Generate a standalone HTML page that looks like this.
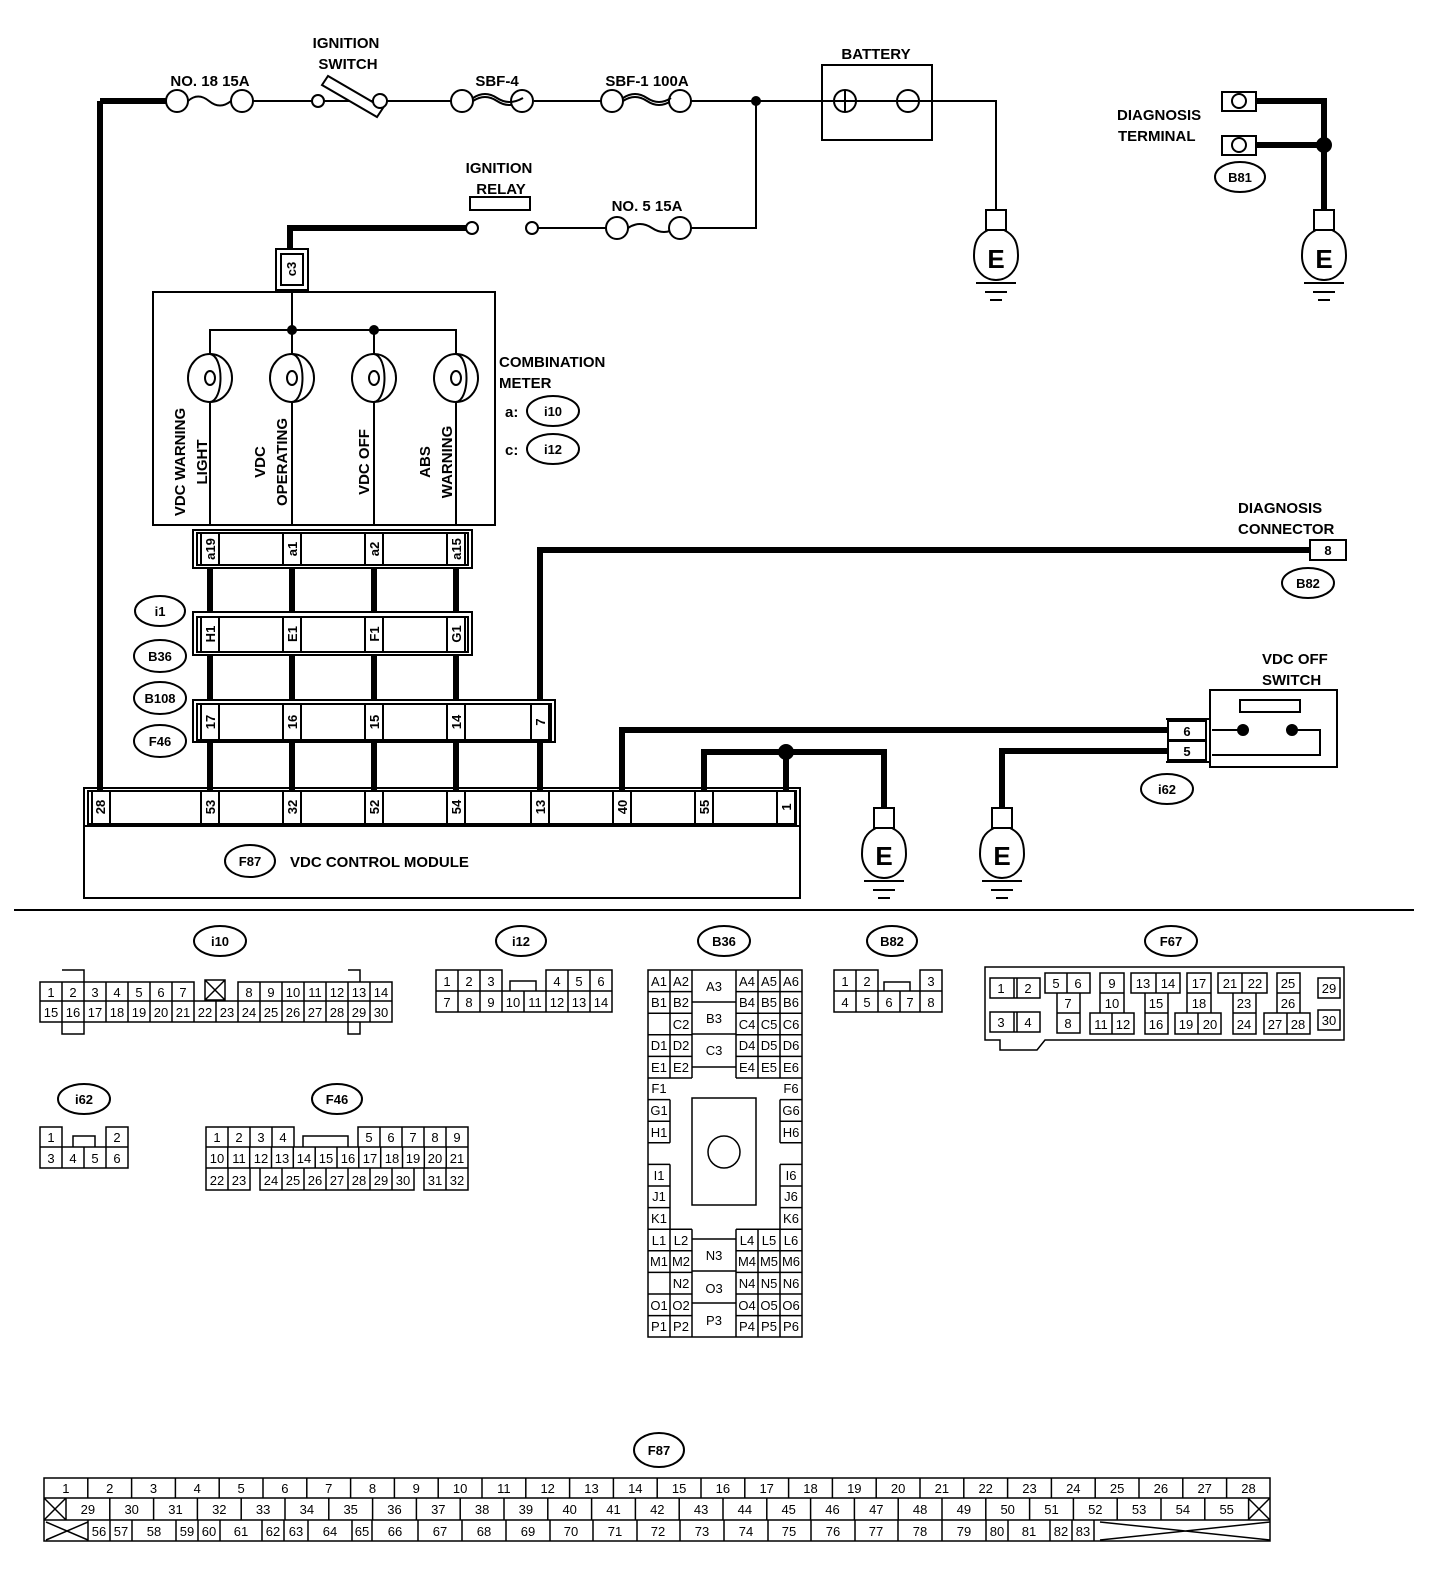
<!DOCTYPE html>
<html><head><meta charset="utf-8"><style>
html,body{margin:0;padding:0;background:#fff;}
svg{display:block;}
text{font-family:"Liberation Sans",sans-serif;fill:#000;}
.l{font-size:15px;font-weight:bold;}
.c{font-size:13px;text-anchor:middle;}
.p{font-size:13px;font-weight:bold;text-anchor:middle;}
</style></head><body>
<svg width="1456" height="1584" viewBox="0 0 1456 1584" xmlns="http://www.w3.org/2000/svg">
<g fill="none" stroke="#000" stroke-width="2">
<!-- top power line -->
<path d="M100 101H166" stroke-width="6"/>
<path d="M100 101V790" stroke-width="6"/>
<path d="M188 101q10 -9 21 0t22 0M253 101H312M324 101H373M387 101H451M473 101q12 -8 24 0t26 0M534 101H601M623 101q12 -8 24 0t24 0M691 101H834M856 101H897M919 101H996V210"/>
<circle cx="177" cy="101" r="11" fill="#fff"/><circle cx="242" cy="101" r="11" fill="#fff"/>
<circle cx="318" cy="101" r="6" fill="#fff"/>
<path d="M322 85l6 -9 55 32 -6 9z" fill="#fff"/>
<circle cx="380" cy="101" r="7" fill="#fff"/>
<circle cx="462" cy="101" r="11" fill="#fff"/><circle cx="522" cy="101" r="11" fill="#fff"/>
<circle cx="612" cy="101" r="11" fill="#fff"/><circle cx="680" cy="101" r="11" fill="#fff"/>
<path d="M473 98q12 -8 24 0t26 0M623 98q12 -8 24 0t24 0"/>
<circle cx="756" cy="101" r="4" fill="#000"/>
<path d="M756 101V228H692"/>
<!-- battery -->
<rect x="822" y="65" width="110" height="75"/>
<circle cx="845" cy="101" r="11"/><path d="M834 101h22M845 90v22"/>
<circle cx="908" cy="101" r="11"/><path d="M897 101h22"/>
<!-- ignition relay -->
<rect x="470" y="197" width="60" height="13"/>
<path d="M537 228H606M628 228q12 -8 24 0t24 0M691 228H692"/>
<circle cx="532" cy="228" r="6" fill="#fff"/>
<circle cx="617" cy="228" r="11" fill="#fff"/><circle cx="680" cy="228" r="11" fill="#fff"/>
<path d="M466 228H290V252" stroke-width="6"/>
<circle cx="472" cy="228" r="6" fill="#fff"/>
<rect x="276" y="249" width="32" height="41" fill="#fff"/><rect x="281" y="254" width="22" height="31"/>
<!-- combination meter -->
<rect x="153" y="292" width="342" height="233"/>
<path d="M292 290V330M210 354V330H456V354M374 330V354M292 330V354"/>
<circle cx="292" cy="330" r="4" fill="#000"/><circle cx="374" cy="330" r="4" fill="#000"/>
<g>
<ellipse cx="210" cy="378" rx="22" ry="24"/><ellipse cx="292" cy="378" rx="22" ry="24"/><ellipse cx="374" cy="378" rx="22" ry="24"/><ellipse cx="456" cy="378" rx="22" ry="24"/>
<path d="M210 354c14 2 14 46 0 48M292 354c14 2 14 46 0 48M374 354c14 2 14 46 0 48M456 354c14 2 14 46 0 48"/>
<ellipse cx="210" cy="378" rx="5" ry="7"/><ellipse cx="292" cy="378" rx="5" ry="7"/><ellipse cx="374" cy="378" rx="5" ry="7"/><ellipse cx="456" cy="378" rx="5" ry="7"/>
</g>
<path d="M210 402V525M292 402V525M374 402V525M456 402V525"/>
<!-- connectors -->
<rect x="193" y="530" width="279" height="38"/><rect x="197" y="533" width="271" height="32"/>
<path d="M201 533v32M219 533v32M283 533v32M301 533v32M365 533v32M383 533v32M447 533v32M465 533v32"/>
<path d="M210 568V612M292 568V612M374 568V612M456 568V612" stroke-width="6"/>
<rect x="193" y="612" width="279" height="43"/><rect x="197" y="617" width="271" height="35"/>
<path d="M201 617v35M219 617v35M283 617v35M301 617v35M365 617v35M383 617v35M447 617v35M465 617v35"/>
<path d="M210 655V700M292 655V700M374 655V700M456 655V700" stroke-width="6"/>
<rect x="193" y="700" width="362" height="42"/><rect x="197" y="704" width="354" height="36"/>
<path d="M201 704v36M219 704v36M283 704v36M301 704v36M365 704v36M383 704v36M447 704v36M465 704v36M531 704v36M549 704v36"/>
<path d="M210 742V790M292 742V790M374 742V790M456 742V790M540 742V790" stroke-width="6"/>
<path d="M540 700V550H1310" stroke-width="6"/>
<!-- F87 module -->
<rect x="84" y="788" width="716" height="38"/><rect x="88" y="791" width="708" height="33"/>
<path d="M92 791v33M110 791v33M201 791v33M219 791v33M283 791v33M301 791v33M365 791v33M383 791v33M447 791v33M465 791v33M531 791v33M549 791v33M613 791v33M631 791v33M695 791v33M713 791v33M777 791v33M795 791v33"/>
<rect x="84" y="826" width="716" height="72"/>
<path d="M622 790V730H1170M704 790V752H884V808M786 790V752M1170 751H1002V808" stroke-width="6"/>
<circle cx="786" cy="752" r="7" fill="#000"/>
<!-- diag connector -->
<rect x="1310" y="540" width="36" height="20" fill="#fff"/>
<!-- VDC off switch -->
<rect x="1210" y="690" width="127" height="77"/>
<path d="M1166 719H1210M1166 762H1210"/>
<rect x="1168" y="721" width="38" height="19" fill="#fff"/><rect x="1168" y="741" width="38" height="19" fill="#fff"/>
<rect x="1240" y="700" width="60" height="12"/>
<path d="M1212 730H1243M1292 730H1320V755H1212"/>
<circle cx="1243" cy="730" r="5" fill="#000"/><circle cx="1292" cy="730" r="5" fill="#000"/>
<!-- diagnosis terminal -->
<path d="M1256 101H1324V210M1256 145H1324" stroke-width="6"/>
<circle cx="1324" cy="145" r="7" fill="#000"/>
<rect x="1222" y="92" width="34" height="19"/><ellipse cx="1239" cy="101" rx="7" ry="7"/>
<rect x="1222" y="136" width="34" height="19"/><ellipse cx="1239" cy="145" rx="7" ry="7"/>
<!-- grounds -->
<g id="gnd">
<rect x="986" y="210" width="20" height="20"/><path d="M988 230c-10 5 -14 12 -14 26 0 14 10 24 22 24 12 0 22 -10 22 -24 0 -14 -4 -21 -14 -26"/>
<path d="M976 283H1016M985 292H1007M990 300H1002"/>
</g>
<use href="#gnd" x="328"/>
<use href="#gnd" x="-112" y="598"/>
<use href="#gnd" x="6" y="598"/>
<!-- separator -->
<path d="M14 910H1414"/>
<!-- ellipses -->
<ellipse cx="1240" cy="177" rx="25" ry="15"/>
<ellipse cx="553" cy="411" rx="26" ry="15"/><ellipse cx="553" cy="449" rx="26" ry="15"/>
<ellipse cx="160" cy="611" rx="25" ry="15"/><ellipse cx="160" cy="656" rx="26" ry="16"/>
<ellipse cx="160" cy="698" rx="26" ry="16"/><ellipse cx="160" cy="741" rx="26" ry="16"/>
<ellipse cx="250" cy="861" rx="25" ry="16"/>
<ellipse cx="1308" cy="583" rx="26" ry="15"/><ellipse cx="1167" cy="789" rx="26" ry="15"/>
<ellipse cx="220" cy="941" rx="26" ry="15"/><ellipse cx="521" cy="941" rx="25" ry="15"/>
<ellipse cx="724" cy="941" rx="26" ry="15"/><ellipse cx="892" cy="941" rx="25" ry="15"/>
<ellipse cx="1171" cy="941" rx="26" ry="15"/><ellipse cx="84" cy="1099" rx="26" ry="15"/>
<ellipse cx="337" cy="1099" rx="25" ry="15"/><ellipse cx="659" cy="1450" rx="25" ry="17"/>
</g>
<g class="l">
<text x="346" y="48" text-anchor="middle">IGNITION</text><text x="348" y="69" text-anchor="middle">SWITCH</text>
<text x="210" y="86" text-anchor="middle">NO. 18 15A</text>
<text x="497" y="86" text-anchor="middle">SBF-4</text>
<text x="647" y="86" text-anchor="middle">SBF-1 100A</text>
<text x="876" y="59" text-anchor="middle">BATTERY</text>
<text x="499" y="173" text-anchor="middle">IGNITION</text><text x="501" y="194" text-anchor="middle">RELAY</text>
<text x="647" y="211" text-anchor="middle">NO. 5 15A</text>
<text x="1117" y="120">DIAGNOSIS</text><text x="1118" y="141">TERMINAL</text>
<text x="499" y="367">COMBINATION</text><text x="499" y="388">METER</text>
<text x="505" y="417">a:</text><text x="505" y="455">c:</text>
<text x="1238" y="513">DIAGNOSIS</text><text x="1238" y="534">CONNECTOR</text>
<text x="1262" y="664">VDC OFF</text><text x="1262" y="685">SWITCH</text>
<text x="290" y="867">VDC CONTROL MODULE</text>
<text transform="translate(185,462) rotate(-90)" text-anchor="middle">VDC WARNING</text>
<text transform="translate(207,462) rotate(-90)" text-anchor="middle">LIGHT</text>
<text transform="translate(265,462) rotate(-90)" text-anchor="middle">VDC</text>
<text transform="translate(287,462) rotate(-90)" text-anchor="middle">OPERATING</text>
<text transform="translate(369,462) rotate(-90)" text-anchor="middle">VDC OFF</text>
<text transform="translate(430,462) rotate(-90)" text-anchor="middle">ABS</text>
<text transform="translate(452,462) rotate(-90)" text-anchor="middle">WARNING</text>
<text x="996" y="268" text-anchor="middle" font-size="26">E</text>
<text x="1324" y="268" text-anchor="middle" font-size="26">E</text>
<text x="884" y="865" text-anchor="middle" font-size="26">E</text>
<text x="1002" y="865" text-anchor="middle" font-size="26">E</text>
</g>
<g class="p">
<text x="1240" y="182">B81</text><text x="553" y="416">i10</text><text x="553" y="454">i12</text>
<text x="160" y="616">i1</text><text x="160" y="661">B36</text><text x="160" y="703">B108</text><text x="160" y="746">F46</text>
<text x="250" y="866">F87</text><text x="1308" y="588">B82</text><text x="1167" y="794">i62</text>
<text x="220" y="946">i10</text><text x="521" y="946">i12</text><text x="724" y="946">B36</text><text x="892" y="946">B82</text>
<text x="1171" y="946">F67</text><text x="84" y="1104">i62</text><text x="337" y="1104">F46</text><text x="659" y="1455">F87</text>
<text x="1328" y="555">8</text><text x="1187" y="736">6</text><text x="1187" y="756">5</text>
<text transform="translate(296,269) rotate(-90)">c3</text>
<text transform="translate(215,549) rotate(-90)">a19</text><text transform="translate(297,549) rotate(-90)">a1</text>
<text transform="translate(379,549) rotate(-90)">a2</text><text transform="translate(461,549) rotate(-90)">a15</text>
<text transform="translate(215,634) rotate(-90)">H1</text><text transform="translate(297,634) rotate(-90)">E1</text>
<text transform="translate(379,634) rotate(-90)">F1</text><text transform="translate(461,634) rotate(-90)">G1</text>
<text transform="translate(215,722) rotate(-90)">17</text><text transform="translate(297,722) rotate(-90)">16</text>
<text transform="translate(379,722) rotate(-90)">15</text><text transform="translate(461,722) rotate(-90)">14</text>
<text transform="translate(545,722) rotate(-90)">7</text>
<text transform="translate(105,807) rotate(-90)">28</text><text transform="translate(215,807) rotate(-90)">53</text>
<text transform="translate(297,807) rotate(-90)">32</text><text transform="translate(379,807) rotate(-90)">52</text>
<text transform="translate(461,807) rotate(-90)">54</text><text transform="translate(545,807) rotate(-90)">13</text>
<text transform="translate(627,807) rotate(-90)">40</text><text transform="translate(709,807) rotate(-90)">55</text>
<text transform="translate(791,807) rotate(-90)">1</text>
</g>

<!-- ===== connector face views ===== -->
<g fill="none" stroke="#000" stroke-width="1.5">
<!-- i10 -->
<path d="M62 970h22v12M348 970h12v12M62 1022v12h22v-12M348 1022v12h12v-12"/>
<path d="M40 982H194V1001H40ZM238 982H392V1001H238ZM40 1001H392V1022H40Z"/>
<path d="M62 982v19M84 982v19M106 982v19M128 982v19M150 982v19M172 982v19M260 982v19M282 982v19M304 982v19M326 982v19M348 982v19M370 982v19"/>
<path d="M62 1001v21M84 1001v21M106 1001v21M128 1001v21M150 1001v21M172 1001v21M194 1001v21M216 1001v21M238 1001v21M260 1001v21M282 1001v21M304 1001v21M326 1001v21M348 1001v21M370 1001v21"/>
<path d="M205 980h20v20h-20zM205 980l20 20M225 980l-20 20"/>
<!-- i12 -->
<path d="M436 970H502V991H436ZM546 970H612V991H546ZM436 991H612V1012H436ZM510 991V981H536V991"/>
<path d="M458 970v42M480 970v42M502 991v21M524 991v21M568 970v42M590 970v42M546 991v21"/>
<!-- B36 -->
<rect x="648" y="970" width="154" height="367"/>
<path d="M648 991.6h44M736 991.6h66M648 1013.2h44M736 1013.2h66M670 1034.8h22M736 1034.8h66M648 1056.4h44M736 1056.4h66M648 1078h44M736 1078h66M648 1099.6h22M780 1099.6h22M648 1121.2h22M780 1121.2h22M648 1142.8h22M780 1142.8h22M648 1164.4h22M780 1164.4h22M648 1186h22M780 1186h22M648 1207.6h22M780 1207.6h22M648 1229.2h44M736 1229.2h66M648 1250.8h44M736 1250.8h66M648 1272.4h44M736 1272.4h66M670 1294h22M736 1294h66M648 1315.6h44M736 1315.6h66"/>
<path d="M670 970v108M692 970v108M736 970v108M758 970v108M780 970v108M670 1099.6v43.2M780 1099.6v43.2M670 1164.4v64.8M780 1164.4v64.8M670 1229.2v108M692 1229.2v108M736 1229.2v108M758 1229.2v108M780 1229.2v108M648 1034.8h22M648 1294h22"/>
<path d="M692 1002h44M692 1034h44M692 1067h44M692 1239h44M692 1271h44M692 1303h44"/>
<rect x="692" y="1098" width="64" height="107"/><circle cx="724" cy="1152" r="16"/>
<!-- B82 -->
<path d="M834 970H878V991H834ZM920 970H942V991H920ZM834 991H942V1012H834ZM884 991V982H910V991M856 970v42M878 991v21M900 991v21M920 991v21"/>
<!-- F67 -->
<path d="M985 967H1344V1040H1045L1037 1050H1000V1040H985Z"/>
<path d="M990 978h50v20h-50zM1014 978v20M1017 978v20M990 1012h50v20h-50zM1014 1012v20M1017 1012v20"/>
<path d="M1045 973h45v20h-45zM1067 973v20M1057 993h23v20h-23zM1057 1013h23v20h-23z"/>
<path d="M1100 973h24v20h-24zM1100 993h24v20h-24zM1090 1013h44v21h-44zM1112 1013v21"/>
<path d="M1131 973h49v20h-49zM1156 973v20M1145 993h23v20h-23zM1145 1013h23v21h-23z"/>
<path d="M1187 973h24v20h-24zM1187 993h24v20h-24zM1175 1013h46v21h-46zM1198 1013v21"/>
<path d="M1218 973h49v20h-49zM1242 973v20M1233 993h23v20h-23zM1233 1013h23v21h-23z"/>
<path d="M1277 973h23v20h-23zM1277 993h23v20h-23zM1264 1013h46v21h-46zM1287 1013v21"/>
<path d="M1318 978h22v20h-22zM1318 1010h22v20h-22z"/>
<!-- i62 -->
<path d="M40 1127H62V1147H40ZM106 1127H128V1147H106ZM40 1147H128V1168H40ZM73 1147V1136H95V1147M62 1147v21M84 1147v21M106 1147v21"/>
<!-- F46 -->
<path d="M206 1127H294V1147H206ZM358 1127H468V1147H358ZM303 1147V1136H348V1147M206 1147H468V1168H206ZM206 1168H250V1190H206ZM260 1168H414V1190H260ZM424 1168H468V1190H424Z"/>
<path d="M228 1127v20M250 1127v20M272 1127v20M380 1127v20M402 1127v20M424 1127v20M446 1127v20"/>
<path d="M227.8 1147v21M249.7 1147v21M271.5 1147v21M293.3 1147v21M315.2 1147v21M337 1147v21M358.8 1147v21M380.7 1147v21M402.5 1147v21M424.3 1147v21M446.2 1147v21"/>
<path d="M228 1168v22M282 1168v22M304 1168v22M326 1168v22M348 1168v22M370 1168v22M392 1168v22M446 1168v22"/>
<!-- F87 big -->
<path d="M44 1478H1270V1541H44ZM44 1498H1270M44 1520H1270"/>
<path d="M87.8 1478v20M131.6 1478v20M175.4 1478v20M219.2 1478v20M263 1478v20M306.8 1478v20M350.6 1478v20M394.4 1478v20M438.2 1478v20M482 1478v20M525.8 1478v20M569.6 1478v20M613.4 1478v20M657.2 1478v20M701 1478v20M744.8 1478v20M788.6 1478v20M832.4 1478v20M876.2 1478v20M920 1478v20M963.8 1478v20M1007.6 1478v20M1051.4 1478v20M1095.2 1478v20M1139 1478v20M1182.8 1478v20M1226.6 1478v20"/>
<path d="M66 1498v22M109.8 1498v22M153.6 1498v22M197.4 1498v22M241.2 1498v22M285 1498v22M328.8 1498v22M372.6 1498v22M416.4 1498v22M460.2 1498v22M504 1498v22M547.8 1498v22M591.6 1498v22M635.4 1498v22M679.2 1498v22M723 1498v22M766.8 1498v22M810.6 1498v22M854.4 1498v22M898.2 1498v22M942 1498v22M985.8 1498v22M1029.6 1498v22M1073.4 1498v22M1117.2 1498v22M1161 1498v22M1204.8 1498v22M1248.6 1498v22"/>
<path d="M44 1498l22 22M66 1498l-22 22M1248 1498l22 22M1270 1498l-22 22M46 1522l42 18M46 1540l42 -18M1100 1522l170 18M1100 1540l170 -18"/>
<path d="M88 1520v21M110 1520v21M132 1520v21M176 1520v21M198 1520v21M220 1520v21M262 1520v21M284 1520v21M308 1520v21M352 1520v21M372 1520v21M418 1520v21M462 1520v21M506 1520v21M550 1520v21M593 1520v21M637 1520v21M680 1520v21M724 1520v21M768 1520v21M811 1520v21M855 1520v21M898 1520v21M942 1520v21M986 1520v21M1008 1520v21M1050 1520v21M1072 1520v21M1094 1520v21"/>
</g>
<g class="c">
<!-- i10 -->
<text x="51" y="997">1</text><text x="73" y="997">2</text><text x="95" y="997">3</text><text x="117" y="997">4</text><text x="139" y="997">5</text><text x="161" y="997">6</text><text x="183" y="997">7</text>
<text x="249" y="997">8</text><text x="271" y="997">9</text><text x="293" y="997">10</text><text x="315" y="997">11</text><text x="337" y="997">12</text><text x="359" y="997">13</text><text x="381" y="997">14</text>
<text x="51" y="1017">15</text><text x="73" y="1017">16</text><text x="95" y="1017">17</text><text x="117" y="1017">18</text><text x="139" y="1017">19</text><text x="161" y="1017">20</text><text x="183" y="1017">21</text><text x="205" y="1017">22</text><text x="227" y="1017">23</text><text x="249" y="1017">24</text><text x="271" y="1017">25</text><text x="293" y="1017">26</text><text x="315" y="1017">27</text><text x="337" y="1017">28</text><text x="359" y="1017">29</text><text x="381" y="1017">30</text>
<!-- i12 -->
<text x="447" y="986">1</text><text x="469" y="986">2</text><text x="491" y="986">3</text><text x="557" y="986">4</text><text x="579" y="986">5</text><text x="601" y="986">6</text>
<text x="447" y="1007">7</text><text x="469" y="1007">8</text><text x="491" y="1007">9</text><text x="513" y="1007">10</text><text x="535" y="1007">11</text><text x="557" y="1007">12</text><text x="579" y="1007">13</text><text x="601" y="1007">14</text>
<!-- B36 -->
<text x="659" y="986">A1</text><text x="681" y="986">A2</text><text x="714" y="991">A3</text><text x="747" y="986">A4</text><text x="769" y="986">A5</text><text x="791" y="986">A6</text>
<text x="659" y="1007">B1</text><text x="681" y="1007">B2</text><text x="714" y="1023">B3</text><text x="747" y="1007">B4</text><text x="769" y="1007">B5</text><text x="791" y="1007">B6</text>
<text x="681" y="1029">C2</text><text x="714" y="1055">C3</text><text x="747" y="1029">C4</text><text x="769" y="1029">C5</text><text x="791" y="1029">C6</text>
<text x="659" y="1050">D1</text><text x="681" y="1050">D2</text><text x="747" y="1050">D4</text><text x="769" y="1050">D5</text><text x="791" y="1050">D6</text>
<text x="659" y="1072">E1</text><text x="681" y="1072">E2</text><text x="747" y="1072">E4</text><text x="769" y="1072">E5</text><text x="791" y="1072">E6</text>
<text x="659" y="1093">F1</text><text x="791" y="1093">F6</text><text x="659" y="1115">G1</text><text x="791" y="1115">G6</text><text x="659" y="1137">H1</text><text x="791" y="1137">H6</text>
<text x="659" y="1180">I1</text><text x="791" y="1180">I6</text><text x="659" y="1201">J1</text><text x="791" y="1201">J6</text><text x="659" y="1223">K1</text><text x="791" y="1223">K6</text>
<text x="659" y="1245">L1</text><text x="681" y="1245">L2</text><text x="747" y="1245">L4</text><text x="769" y="1245">L5</text><text x="791" y="1245">L6</text>
<text x="659" y="1266">M1</text><text x="681" y="1266">M2</text><text x="714" y="1260">N3</text><text x="747" y="1266">M4</text><text x="769" y="1266">M5</text><text x="791" y="1266">M6</text>
<text x="681" y="1288">N2</text><text x="714" y="1293">O3</text><text x="747" y="1288">N4</text><text x="769" y="1288">N5</text><text x="791" y="1288">N6</text>
<text x="659" y="1310">O1</text><text x="681" y="1310">O2</text><text x="747" y="1310">O4</text><text x="769" y="1310">O5</text><text x="791" y="1310">O6</text>
<text x="659" y="1331">P1</text><text x="681" y="1331">P2</text><text x="714" y="1325">P3</text><text x="747" y="1331">P4</text><text x="769" y="1331">P5</text><text x="791" y="1331">P6</text>
<!-- B82 -->
<text x="845" y="986">1</text><text x="867" y="986">2</text><text x="931" y="986">3</text>
<text x="845" y="1007">4</text><text x="867" y="1007">5</text><text x="889" y="1007">6</text><text x="910" y="1007">7</text><text x="931" y="1007">8</text>
<!-- F67 -->
<text x="1001" y="993">1</text><text x="1028" y="993">2</text><text x="1001" y="1027">3</text><text x="1028" y="1027">4</text>
<text x="1056" y="988">5</text><text x="1078" y="988">6</text><text x="1068" y="1008">7</text><text x="1068" y="1028">8</text>
<text x="1112" y="988">9</text><text x="1112" y="1008">10</text><text x="1101" y="1029">11</text><text x="1123" y="1029">12</text>
<text x="1143" y="988">13</text><text x="1168" y="988">14</text><text x="1156" y="1008">15</text><text x="1156" y="1029">16</text>
<text x="1199" y="988">17</text><text x="1199" y="1008">18</text><text x="1186" y="1029">19</text><text x="1210" y="1029">20</text>
<text x="1230" y="988">21</text><text x="1255" y="988">22</text><text x="1244" y="1008">23</text><text x="1244" y="1029">24</text>
<text x="1288" y="988">25</text><text x="1288" y="1008">26</text><text x="1275" y="1029">27</text><text x="1298" y="1029">28</text>
<text x="1329" y="993">29</text><text x="1329" y="1025">30</text>
<!-- i62 -->
<text x="51" y="1142">1</text><text x="117" y="1142">2</text><text x="51" y="1163">3</text><text x="73" y="1163">4</text><text x="95" y="1163">5</text><text x="117" y="1163">6</text>
<!-- F46 -->
<text x="217" y="1142">1</text><text x="239" y="1142">2</text><text x="261" y="1142">3</text><text x="283" y="1142">4</text><text x="369" y="1142">5</text><text x="391" y="1142">6</text><text x="413" y="1142">7</text><text x="435" y="1142">8</text><text x="457" y="1142">9</text>
<text x="217" y="1163">10</text><text x="239" y="1163">11</text><text x="261" y="1163">12</text><text x="282" y="1163">13</text><text x="304" y="1163">14</text><text x="326" y="1163">15</text><text x="348" y="1163">16</text><text x="370" y="1163">17</text><text x="392" y="1163">18</text><text x="413" y="1163">19</text><text x="435" y="1163">20</text><text x="457" y="1163">21</text>
<text x="217" y="1185">22</text><text x="239" y="1185">23</text><text x="271" y="1185">24</text><text x="293" y="1185">25</text><text x="315" y="1185">26</text><text x="337" y="1185">27</text><text x="359" y="1185">28</text><text x="381" y="1185">29</text><text x="403" y="1185">30</text><text x="435" y="1185">31</text><text x="457" y="1185">32</text>
<!-- F87 -->
<text x="65.9" y="1493">1</text><text x="109.7" y="1493">2</text><text x="153.5" y="1493">3</text><text x="197.3" y="1493">4</text><text x="241.1" y="1493">5</text><text x="284.9" y="1493">6</text><text x="328.7" y="1493">7</text><text x="372.5" y="1493">8</text><text x="416.3" y="1493">9</text><text x="460.1" y="1493">10</text><text x="503.9" y="1493">11</text><text x="547.7" y="1493">12</text><text x="591.5" y="1493">13</text><text x="635.3" y="1493">14</text><text x="679.1" y="1493">15</text><text x="722.9" y="1493">16</text><text x="766.7" y="1493">17</text><text x="810.5" y="1493">18</text><text x="854.3" y="1493">19</text><text x="898.1" y="1493">20</text><text x="941.9" y="1493">21</text><text x="985.7" y="1493">22</text><text x="1029.5" y="1493">23</text><text x="1073.3" y="1493">24</text><text x="1117.1" y="1493">25</text><text x="1160.9" y="1493">26</text><text x="1204.7" y="1493">27</text><text x="1248.5" y="1493">28</text>
<text x="87.9" y="1514">29</text><text x="131.7" y="1514">30</text><text x="175.5" y="1514">31</text><text x="219.3" y="1514">32</text><text x="263.1" y="1514">33</text><text x="306.9" y="1514">34</text><text x="350.7" y="1514">35</text><text x="394.5" y="1514">36</text><text x="438.3" y="1514">37</text><text x="482.1" y="1514">38</text><text x="525.9" y="1514">39</text><text x="569.7" y="1514">40</text><text x="613.5" y="1514">41</text><text x="657.3" y="1514">42</text><text x="701.1" y="1514">43</text><text x="744.9" y="1514">44</text><text x="788.7" y="1514">45</text><text x="832.5" y="1514">46</text><text x="876.3" y="1514">47</text><text x="920.1" y="1514">48</text><text x="963.9" y="1514">49</text><text x="1007.7" y="1514">50</text><text x="1051.5" y="1514">51</text><text x="1095.3" y="1514">52</text><text x="1139.1" y="1514">53</text><text x="1182.9" y="1514">54</text><text x="1226.7" y="1514">55</text>
<text x="99" y="1536">56</text><text x="121" y="1536">57</text><text x="154" y="1536">58</text><text x="187" y="1536">59</text><text x="209" y="1536">60</text><text x="241" y="1536">61</text><text x="273" y="1536">62</text><text x="296" y="1536">63</text><text x="330" y="1536">64</text><text x="362" y="1536">65</text><text x="395" y="1536">66</text><text x="440" y="1536">67</text><text x="484" y="1536">68</text><text x="528" y="1536">69</text><text x="571" y="1536">70</text><text x="615" y="1536">71</text><text x="658" y="1536">72</text><text x="702" y="1536">73</text><text x="746" y="1536">74</text><text x="789" y="1536">75</text><text x="833" y="1536">76</text><text x="876" y="1536">77</text><text x="920" y="1536">78</text><text x="964" y="1536">79</text><text x="997" y="1536">80</text><text x="1029" y="1536">81</text><text x="1061" y="1536">82</text><text x="1083" y="1536">83</text>
</g>
</svg>
</body></html>
